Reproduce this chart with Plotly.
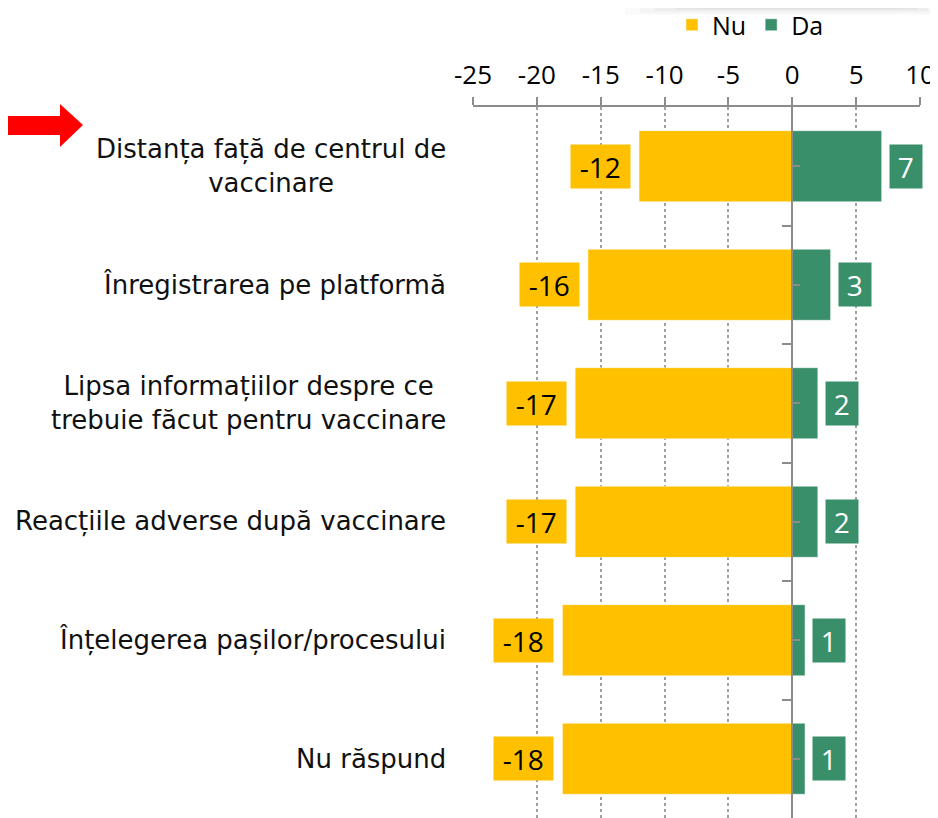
import plotly.graph_objects as go

categories = [
    "Distanța față de centrul de<br>vaccinare",
    "Înregistrarea pe platformă",
    "Lipsa informațiilor despre ce<br>trebuie făcut pentru vaccinare",
    "Reacțiile adverse după vaccinare",
    "Înțelegerea pașilor/procesului",
    "Nu răspund",
]
nu_values = [-12, -16, -17, -17, -18, -18]
da_values = [7, 3, 2, 2, 1, 1]
x_ticks = [-25, -20, -15, -10, -5, 0, 5, 10]
series_names = ["Nu", "Da"]

YELLOW = "#FFC000"
GREEN = "#3A8F6B"
GRAY = "#8C8C8C"
FONT = "Open Sans"
LABEL_FONT = "DejaVu Sans"

# page body has an 8px margin; figure sized to fill the rest of the window
OFF = 8
W, H = 938 - OFF, 818 - OFF
ML, MR, MT, MB = 473 - OFF, 18, 107 - OFF, 0
PW, PH = W - ML - MR, H - MT - MB


def px(x):
    """screen pixel x -> paper"""
    return (x - OFF - ML) / PW


def py(y):
    """screen pixel y -> paper"""
    return (H - MB - (y - OFF)) / PH


idx = list(range(len(categories)))

fig = go.Figure()
fig.add_trace(go.Bar(
    x=nu_values, y=idx, orientation="h", name=series_names[0],
    marker=dict(color=YELLOW, line=dict(color="rgba(255,255,255,0.5)", width=1)),
    width=0.6, hoverinfo="skip",
))
fig.add_trace(go.Bar(
    x=da_values, y=idx, orientation="h", name=series_names[1],
    marker=dict(color=GREEN, line=dict(color="rgba(255,255,255,0.5)", width=1)),
    width=0.6, hoverinfo="skip",
))

annotations = []
for i, (cat, nv, dv) in enumerate(zip(categories, nu_values, da_values)):
    annotations.append(dict(
        x=0, xref="paper", y=i, yref="y", text=cat, showarrow=False,
        xanchor="right", yanchor="middle", xshift=-25, align="center",
        font=dict(family=LABEL_FONT, size=26, color="#111111"),
    ))
    nt = str(nv)
    annotations.append(dict(
        x=nv, xref="x", y=i, yref="y", text=nt, showarrow=False,
        xanchor="right", yanchor="middle", xshift=-8,
        bgcolor=YELLOW, borderpad=0, width=18 + 13.5 * len(nt), height=43,
        font=dict(family=FONT, size=28, color="#000000"),
    ))
    dt = str(dv)
    annotations.append(dict(
        x=dv, xref="x", y=i, yref="y", text=dt, showarrow=False,
        xanchor="left", yanchor="middle", xshift=7,
        bgcolor=GREEN, borderpad=0, width=18 + 13.5 * len(dt), height=43,
        font=dict(family=FONT, size=28, color="#FFFFFF"),
    ))

shapes = []
# soft shadow at the top right (decoration)
layers = [(625, 938, 15, 0.018), (640, 934, 13, 0.022), (655, 928, 11, 0.026),
          (675, 918, 9.5, 0.03), (700, 900, 8.5, 0.03)]
for (x0, x1, y1, op) in layers:
    shapes.append(dict(type="rect", xref="paper", yref="paper",
                       x0=px(x0), x1=px(x1), y0=py(-5), y1=py(y1),
                       fillcolor="#000000", opacity=op, line=dict(width=0),
                       layer="below"))
# red arrow (decoration)
pts = [(0, 116), (60, 116), (60, 104), (83, 125), (60, 147), (60, 135), (0, 135)]
path = "M " + " L ".join(f"{px(a):.5f},{py(b):.5f}" for a, b in pts) + " Z"
shapes.append(dict(type="path", xref="paper", yref="paper", path=path,
                   fillcolor="#FF0000", line=dict(width=0)))

zero_pos = (0 - x_ticks[0]) / (x_ticks[-1] - x_ticks[0])

fig.update_layout(
    width=W, height=H,
    margin=dict(l=ML, r=MR, t=MT, b=MB, pad=0, autoexpand=False),
    paper_bgcolor="white", plot_bgcolor="white",
    barmode="relative", bargap=0.4,
    font=dict(family=FONT, color="#000000"),
    showlegend=True,
    legend=dict(orientation="h", x=px(672), y=py(2), xanchor="left", yanchor="top",
                font=dict(family=FONT, size=25, color="#000000"),
                bgcolor="rgba(0,0,0,0)", itemclick=False, traceorder="normal"),
    xaxis=dict(
        range=[x_ticks[0], x_ticks[-1]], side="top",
        tickvals=x_ticks, ticktext=[str(t) for t in x_ticks],
        tickfont=dict(family=FONT, size=26, color="#000000"),
        ticklabelstandoff=3,
        showline=True, linecolor=GRAY, linewidth=2,
        ticks="outside", ticklen=8, tickwidth=1.5, tickcolor=GRAY,
        showgrid=True, gridcolor="#A0A0A0", gridwidth=1.5, griddash="dot",
        zeroline=False, fixedrange=True, automargin=False,
    ),
    yaxis=dict(
        range=[len(categories) - 0.5, -0.5],
        anchor="free", position=zero_pos, side="left",
        showline=True, linecolor=GRAY, linewidth=2,
        tickvals=[i + 0.5 for i in idx[:-1]], showticklabels=False,
        ticks="outside", ticklen=9, tickwidth=2, tickcolor=GRAY,
        minor=dict(tick0=0, dtick=1, ticks="inside", ticklen=7,
                   tickwidth=2, tickcolor=GRAY, showgrid=False),
        showgrid=False, zeroline=False, fixedrange=True, automargin=False,
    ),
    annotations=annotations,
    shapes=shapes,
)

fig.write_html("out.html")
